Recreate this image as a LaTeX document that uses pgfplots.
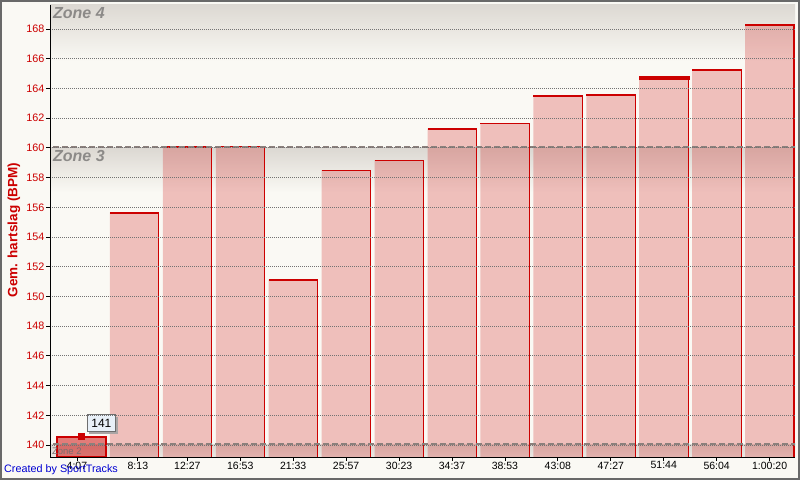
\documentclass[border=0pt]{standalone}
\usepackage{pgfplots}
\pgfplotsset{compat=1.18}
\usepackage{fontspec}
\setmainfont{Liberation Sans}
\definecolor{bg}{RGB}{250,249,244}
\definecolor{zg}{RGB}{220,216,210}
\definecolor{sred}{RGB}{204,0,0}
\definecolor{gridc}{RGB}{115,115,115}
\definecolor{dashc}{RGB}{140,128,124}
\definecolor{zonet}{RGB}{140,138,136}
\definecolor{tipbg}{RGB}{232,240,248}
\definecolor{ctblue}{RGB}{0,0,210}
\definecolor{framec}{RGB}{105,105,105}
\begin{document}
\begin{tikzpicture}
\useasboundingbox (0pt,0pt) rectangle (800pt,480pt);
\fill[bg] (0pt,0pt) rectangle (800pt,480pt);
\draw[framec, line width=2pt] (1pt,1pt) rectangle (799pt,479pt);
\begin{axis}[
  at={(50pt,23pt)}, anchor=south west, scale only axis,
  width=745pt, height=452pt,
  xmin=-0.594, xmax=13.48, ymin=139.19, ymax=169.62,
  axis x line*=bottom, axis y line*=left,
  axis line style={-, black, line width=1pt},
  tick align=outside, major tick length=4pt,
  tick style={black, line width=0.8pt},
  xtick={-0.085,1.066,2,3,4,5,6,7,8,9,10,11,12,13},
  xticklabels={4:07,8:13,12:27,16:53,21:33,25:57,30:23,34:37,38:53,43:08,47:27,51:44,56:04,1:00:20},
  ytick={140,142,...,168},
  /pgf/number format/assume math mode=true,
  yticklabel style={text=sred, font=\fontsize{10.8}{12}\selectfont, inner xsep=1.5pt},
  xticklabel style={text=black, font=\fontsize{10.5}{12}\selectfont, inner ysep=0.5pt},
  ymajorgrids, grid style={gridc, dash pattern=on 1pt off 1pt, line width=0.9pt},
  axis on top,
  axis background/.style={fill=bg},
]
% zone gradients
\shade[top color=zg, bottom color=bg] (axis cs:-0.7,169.7) rectangle (axis cs:13.6,165.8);
\shade[top color=zg, bottom color=bg] (axis cs:-0.7,160) rectangle (axis cs:13.6,157.0);
\shade[top color=zg, bottom color=bg!60!zg] (axis cs:-0.7,140) rectangle (axis cs:13.6,139.0);
% bars
\addplot[ybar, bar width=0.925, bar shift=0pt, fill=sred, fill opacity=0.23, draw=none] coordinates {
(1,155.62) (2,160.06) (3,160.10) (4,151.10) (5,158.48) (6,159.16) (7,161.27)
(8,161.64) (9,163.49) (10,163.56) (11,164.70) (12,165.24) (13,168.27)
};
% bar outlines (top and right edges)
\addplot[sred, line width=1.2pt, mark=none, unbounded coords=jump] coordinates {
(0.5375,155.62) (1.4625,155.62) (1.4625,130) (1.5,nan)
(1.5375,160.06) (2.4625,160.06) (2.4625,130) (2.5,nan)
(2.5375,160.10) (3.4625,160.10) (3.4625,130) (3.5,nan)
(3.5375,151.10) (4.4625,151.10) (4.4625,130) (4.5,nan)
(4.5375,158.48) (5.4625,158.48) (5.4625,130) (5.5,nan)
(5.5375,159.16) (6.4625,159.16) (6.4625,130) (6.5,nan)
(6.5375,161.27) (7.4625,161.27) (7.4625,130) (7.5,nan)
(7.5375,161.64) (8.4625,161.64) (8.4625,130) (8.5,nan)
(8.5375,163.49) (9.4625,163.49) (9.4625,130) (9.5,nan)
(9.5375,163.56) (10.4625,163.56) (10.4625,130) (10.5,nan)
(10.5375,164.70) (11.4625,164.70) (11.4625,130) (11.5,nan)
(11.5375,165.24) (12.4625,165.24) (12.4625,130) (12.5,nan)
(12.5375,168.27) (13.4625,168.27) (13.4625,130)
};
% thick top on 51:44
\addplot[sred, line width=4pt, mark=none] coordinates {(10.5375,164.70) (11.5,164.70)};
% selected bar
\addplot[ybar, bar width=0.925, bar shift=0pt, fill=sred, fill opacity=0.5, draw=sred, line width=2pt] coordinates {(0,140.56)};
\addplot[only marks, mark=square*, mark size=3pt, sred] coordinates {(0,140.62)};
% zone boundary lines
\addplot[dashc, line width=2.5pt, dash pattern=on 6pt off 3pt, mark=none] coordinates {(-0.7,160.06) (13.6,160.06)};
\addplot[dashc, line width=2.5pt, dash pattern=on 6pt off 3pt, mark=none] coordinates {(-0.7,140.06) (13.6,140.06)};
% zone labels
\node[anchor=north west, inner sep=0pt, font=\fontsize{16}{18}\selectfont\bfseries\itshape, text=zonet] at (axis cs:-0.538,169.45) {Zone 4};
\node[anchor=north west, inner sep=0pt, font=\fontsize{16}{18}\selectfont\bfseries\itshape, text=zonet] at (axis cs:-0.538,159.88) {Zone 3};
\node[anchor=west, inner sep=0pt, font=\fontsize{9.5}{11}\selectfont, text={rgb,255:red,120;green,110;blue,110}] at (axis cs:-0.56,139.56) {Zone 2};
% tooltip
\node[fill={rgb,255:red,170;green,165;blue,165}, minimum width=29pt, minimum height=17pt, inner sep=0pt] at ([xshift=2.5pt,yshift=-2.5pt]axis cs:0.377,141.45) {};
\node[fill=tipbg, draw={rgb,255:red,110;green,110;blue,110}, line width=1pt, minimum width=28pt, minimum height=17pt, inner sep=0pt, font=\fontsize{12}{14}\selectfont] at (axis cs:0.377,141.45) {141};
\end{axis}
\node[rotate=90, font=\fontsize{13.5}{15}\selectfont\bfseries, text=sred] at (14pt,250pt) {Gem. hartslag (BPM)};
\node[anchor=west, inner sep=0pt, font=\fontsize{10.8}{12}\selectfont, text=ctblue] at (4pt,10pt) {Created by SportTracks};
\end{tikzpicture}
\end{document}
